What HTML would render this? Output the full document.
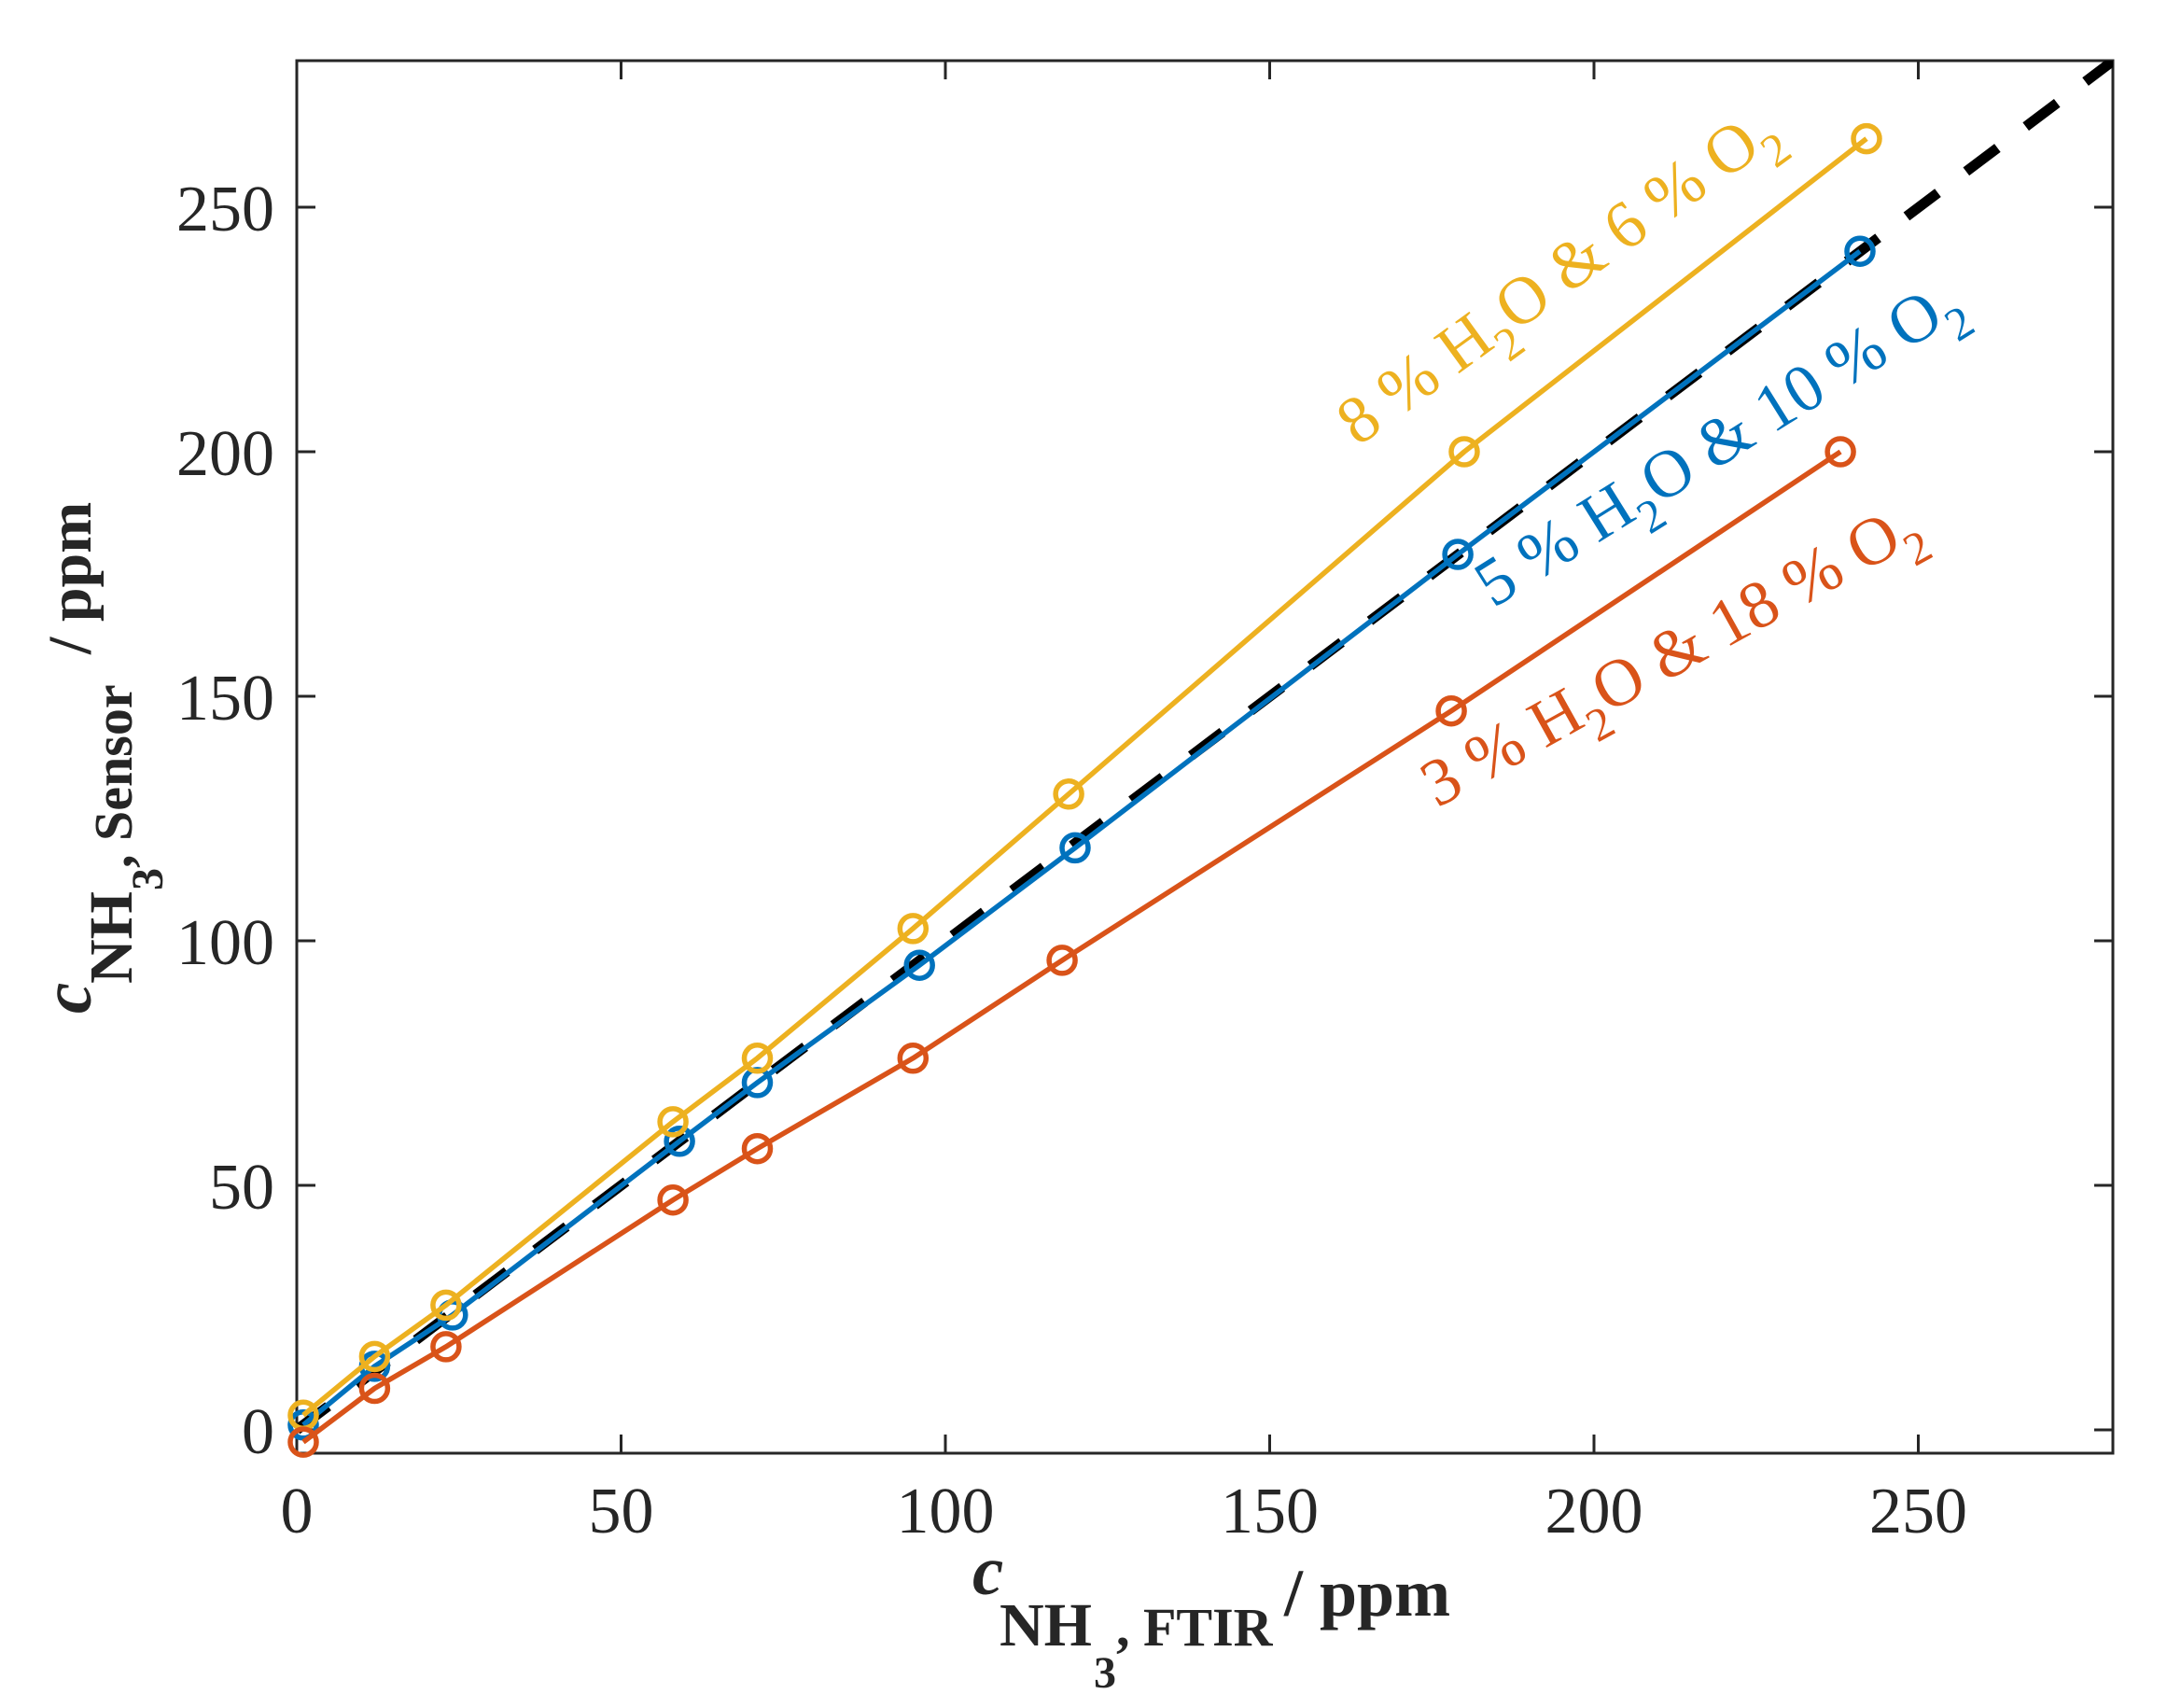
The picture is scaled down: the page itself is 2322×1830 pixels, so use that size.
<!DOCTYPE html>
<html><head><meta charset="utf-8"><style>
html,body{margin:0;padding:0;background:#fff;}
svg{display:block;}
text{font-family:"Liberation Serif",serif;}
</style></head><body>
<svg width="2322" height="1830" viewBox="0 0 2322 1830" xmlns="http://www.w3.org/2000/svg">
<defs><clipPath id="c"><rect x="318" y="65" width="1946" height="1492"/></clipPath></defs>
<rect x="0" y="0" width="2322" height="1830" fill="#fff"/>
<g stroke="#262626" stroke-width="3" fill="none">
<rect x="318" y="65" width="1946" height="1492"/>
<path d="M318 1557v-20M665.5 1557v-20M1013 1557v-20M1360.5 1557v-20M1708 1557v-20M2055.5 1557v-20
M318 65v20M665.5 65v20M1013 65v20M1360.5 65v20M1708 65v20M2055.5 65v20
M318 1532h20M318 1270h20M318 1008h20M318 746h20M318 484h20M318 222h20
M2264 1532h-20M2264 1270h-20M2264 1008h-20M2264 746h-20M2264 484h-20M2264 222h-20"/>
</g>
<g font-size="70" fill="#262626" text-anchor="middle">
<text x="318" y="1642">0</text><text x="665.5" y="1642">50</text><text x="1013" y="1642">100</text>
<text x="1360.5" y="1642">150</text><text x="1708" y="1642">200</text><text x="2055.5" y="1642">250</text>
</g>
<g font-size="70" fill="#262626" text-anchor="end">
<text x="294" y="1557">0</text><text x="294" y="1295">50</text><text x="294" y="1033">100</text>
<text x="294" y="771">150</text><text x="294" y="509">200</text><text x="294" y="247">250</text>
</g>
<g clip-path="url(#c)">
<line x1="318" y1="1532" x2="2275" y2="57" stroke="#000" stroke-width="11" stroke-dasharray="42 38"/>
</g>
<g fill="none" stroke-width="5.5" stroke-linejoin="round">
<g stroke="#0072BD">
<polyline points="325,1526.8 401.4,1463.9 484.8,1408.9 728.1,1222.8 811.5,1159.9 985.2,1034.2 1152,908.4 1562.1,594 1993,269.2"/>
<circle cx="325" cy="1526.8" r="14"/><circle cx="401.4" cy="1463.9" r="14"/><circle cx="484.8" cy="1408.9" r="14"/><circle cx="728.1" cy="1222.8" r="14"/><circle cx="811.5" cy="1159.9" r="14"/><circle cx="985.2" cy="1034.2" r="14"/><circle cx="1152" cy="908.4" r="14"/><circle cx="1562.1" cy="594" r="14"/><circle cx="1993" cy="269.2" r="14"/>
</g>
<g stroke="#EDB120">
<polyline points="325,1516.3 401.4,1453.4 477.9,1398.4 721.1,1201.9 811.5,1133.8 978.3,994.9 1145.1,850.8 1569,484 2000,148.6"/>
<circle cx="325" cy="1516.3" r="14"/><circle cx="401.4" cy="1453.4" r="14"/><circle cx="477.9" cy="1398.4" r="14"/><circle cx="721.1" cy="1201.9" r="14"/><circle cx="811.5" cy="1133.8" r="14"/><circle cx="978.3" cy="994.9" r="14"/><circle cx="1145.1" cy="850.8" r="14"/><circle cx="1569" cy="484" r="14"/><circle cx="2000" cy="148.6" r="14"/>
</g>
<g stroke="#D95319">
<polyline points="325,1545.1 401.4,1487.5 477.9,1442.9 721.1,1285.7 811.5,1230.7 978.3,1133.8 1138.1,1028.9 1555.1,761.7 1972.1,484"/>
<circle cx="325" cy="1545.1" r="14"/><circle cx="401.4" cy="1487.5" r="14"/><circle cx="477.9" cy="1442.9" r="14"/><circle cx="721.1" cy="1285.7" r="14"/><circle cx="811.5" cy="1230.7" r="14"/><circle cx="978.3" cy="1133.8" r="14"/><circle cx="1138.1" cy="1028.9" r="14"/><circle cx="1555.1" cy="761.7" r="14"/><circle cx="1972.1" cy="484" r="14"/>
</g>
</g>
<text transform="translate(1455,479) rotate(-36)" font-size="72" fill="#EDB120">8 % H<tspan font-size="50" dy="22">2</tspan><tspan dy="-22">O &amp; 6 % O</tspan><tspan font-size="50" dy="22">2</tspan></text>
<text transform="translate(1600,652) rotate(-32)" font-size="72" fill="#0072BD">5 % H<tspan font-size="50" dy="22">2</tspan><tspan dy="-22">O &amp; 10 % O</tspan><tspan font-size="50" dy="22">2</tspan></text>
<text transform="translate(1540,866) rotate(-29)" font-size="72" fill="#D95319">3 % H<tspan font-size="50" dy="22">2</tspan><tspan dy="-22">O &amp; 18 % O</tspan><tspan font-size="50" dy="22">2</tspan></text>
<g fill="#262626" font-weight="bold">
<text x="1042" y="1708" font-size="75" font-style="italic">c</text>
<text x="1071" y="1763" font-size="66">NH</text>
<text x="1172" y="1808" font-size="48">3</text>
<text x="1196" y="1763" font-size="58">, FTIR</text>
<text x="1376" y="1731" font-size="72">/ ppm</text>
</g>
<g transform="translate(97,1086) rotate(-90)" fill="#262626" font-weight="bold">
<text x="0" y="0" font-size="75" font-style="italic">c</text>
<text x="32" y="44" font-size="66">NH</text>
<text x="132" y="77" font-size="48">3</text>
<text x="156" y="44" font-size="58">, Sensor</text>
<text x="385" y="0" font-size="66">/ ppm</text>
</g>
</svg>
</body></html>
